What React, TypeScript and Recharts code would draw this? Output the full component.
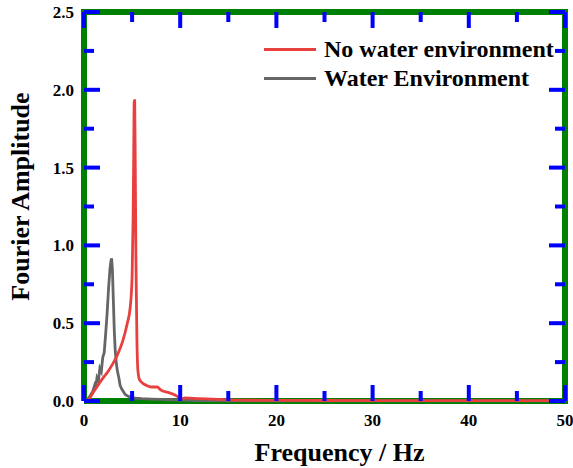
import React from 'react';
import { ComposedChart, Line, Scatter, XAxis, YAxis } from 'recharts';

const noWaterFreq = [0, 0.3, 1.0, 2.0, 2.5, 3.0, 3.5, 4.0, 4.5, 4.8, 5.0, 5.1, 5.17, 5.22, 5.27, 5.33, 5.4, 5.5, 5.6, 5.75, 6.0, 6.5, 7.0, 7.6, 8.0, 9.0, 9.7, 10.1, 10.5, 12, 14, 16, 20, 30, 40, 50];
const noWaterAmp = [0, 0.0, 0.06, 0.15, 0.19, 0.24, 0.3, 0.38, 0.5, 0.6, 0.8, 1.15, 1.6, 1.93, 1.93, 1.5, 0.9, 0.4, 0.2, 0.14, 0.12, 0.1, 0.09, 0.09, 0.07, 0.05, 0.03, 0.012, 0.02, 0.015, 0.01, 0.006, 0.004, 0.003, 0.003, 0.003];

const waterFreq = [0, 0.3, 0.6, 0.9, 1.1, 1.2, 1.35, 1.5, 1.65, 1.8, 1.95, 2.1, 2.25, 2.4, 2.55, 2.7, 2.8, 2.87, 2.95, 3.05, 3.15, 3.25, 3.35, 3.45, 3.55, 3.65, 3.75, 3.9, 4.1, 4.3, 4.6, 5.0, 6, 7, 8, 9, 10, 12, 20, 50];
const waterAmp = [0, 0.005, 0.03, 0.06, 0.1, 0.08, 0.15, 0.13, 0.21, 0.19, 0.28, 0.31, 0.43, 0.56, 0.72, 0.85, 0.9, 0.917, 0.85, 0.65, 0.45, 0.32, 0.25, 0.2, 0.17, 0.14, 0.1, 0.08, 0.06, 0.04, 0.03, 0.02, 0.015, 0.012, 0.01, 0.008, 0.005, 0.002, 0.001, 0.001];

const xTicks = [0, 5, 10, 15, 20, 25, 30, 35, 40, 45, 50];
const yTicks = [0, 0.25, 0.5, 0.75, 1.0, 1.25, 1.5, 1.75, 2.0, 2.25, 2.5];
const xDomain = [0, 50];
const yDomain = [0, 2.5];

const seriesNames = ['No water environment', 'Water Environment'];
const seriesColors = ['#e8403f', '#666666'];

const noWaterData = noWaterFreq.map((f, i) => ({ f, a: noWaterAmp[i] }));
const waterData = waterFreq.map((f, i) => ({ f, a: waterAmp[i] }));

const isMajorX = (v: number) => v % 10 === 0;
const isMajorY = (v: number) => Math.abs(v * 2 - Math.round(v * 2)) < 1e-6;

const frameData = [
  { f: xDomain[0], a: yDomain[0] },
  { f: xDomain[1], a: yDomain[0] },
  { f: xDomain[1], a: yDomain[1] },
  { f: xDomain[0], a: yDomain[1] },
  { f: xDomain[0], a: yDomain[0] },
];

const tickMarks = [
  ...xTicks.map((v) => ({ f: v, a: yDomain[0], side: 'b', major: isMajorX(v) })),
  ...xTicks.map((v) => ({ f: v, a: yDomain[1], side: 't', major: isMajorX(v) })),
  ...yTicks.map((v) => ({ f: xDomain[0], a: v, side: 'l', major: isMajorY(v) })),
  ...yTicks.map((v) => ({ f: xDomain[1], a: v, side: 'r', major: isMajorY(v) })),
];

const FONT = '"Liberation Serif", "Times New Roman", serif';
const TC = 'blue';

const renderTickMark = (props: any) => {
  const { cx, cy, payload } = props;
  if (cx == null || cy == null || !payload) return <g />;
  const len = payload.major ? 16 : 10;
  const w = 4;
  switch (payload.side) {
    case 'b':
      return <rect x={cx - w / 2} y={cy - len} width={w} height={len} fill={TC} />;
    case 't':
      return <rect x={cx - w / 2} y={cy} width={w} height={len} fill={TC} />;
    case 'l':
      return <rect x={cx} y={cy - w / 2} width={len} height={w} fill={TC} />;
    default:
      return <rect x={cx - len} y={cy - w / 2} width={len} height={w} fill={TC} />;
  }
};

const renderBottomTick = (props: any) => {
  const { x, y, payload } = props;
  if (!isMajorX(payload.value)) return <g />;
  return (
    <text x={x} y={y + 25} textAnchor="middle" fontFamily={FONT} fontWeight="bold" fontSize={17} fill="#000">
      {payload.value}
    </text>
  );
};

const renderLeftTick = (props: any) => {
  const { x, y, payload } = props;
  if (!isMajorY(payload.value)) return <g />;
  return (
    <text x={x - 10} y={y + 6} textAnchor="end" fontFamily={FONT} fontWeight="bold" fontSize={17} fill="#000">
      {payload.value.toFixed(1)}
    </text>
  );
};

const renderYLabel = (props: any) => {
  const vb = props.viewBox || {};
  const cx = (vb.x || 0) + 20;
  const cy = (vb.y || 0) + (vb.height || 0) / 2 - 10;
  return (
    <text x={cx} y={cy} transform={`rotate(-90 ${cx} ${cy})`} textAnchor="middle" dominantBaseline="central"
      fontFamily={FONT} fontWeight="bold" fontSize={26} fill="#000">
      Fourier Amplitude
    </text>
  );
};

const renderXLabel = (props: any) => {
  const vb = props.viewBox || {};
  const cx = (vb.x || 0) + (vb.width || 0) / 2 + 15;
  const cy = (vb.y || 0) + 60;
  return (
    <text x={cx} y={cy} textAnchor="middle" fontFamily={FONT} fontWeight="bold" fontSize={26} fill="#000">
      Frequency / Hz
    </text>
  );
};

export default function App() {
  return (
    <div style={{ position: 'absolute', left: 0, top: 0 }}>
      <ComposedChart width={573} height={468} margin={{ top: 12, right: 8, bottom: 0, left: 0 }}>
        <XAxis
          dataKey="f"
          type="number"
          domain={xDomain}
          ticks={xTicks}
          interval={0}
          height={67}
          tickSize={0}
          tickMargin={0}
          tickLine={false}
          axisLine={false}
          tick={renderBottomTick}
          label={{ content: renderXLabel }}
        />
        <YAxis
          type="number"
          domain={yDomain}
          ticks={yTicks}
          interval={0}
          width={84}
          tickSize={0}
          tickMargin={0}
          tickLine={false}
          axisLine={false}
          tick={renderLeftTick}
          label={{ content: renderYLabel }}
        />
        <Line
          data={frameData}
          dataKey="a"
          type="linear"
          stroke="green"
          strokeWidth={6}
          dot={false}
          activeDot={false}
          legendType="none"
          isAnimationActive={false}
        />
        <Scatter
          data={tickMarks}
          dataKey="a"
          shape={renderTickMark}
          legendType="none"
          isAnimationActive={false}
        />
        <Line
          data={waterData}
          dataKey="a"
          name={seriesNames[1]}
          type="linear"
          stroke={seriesColors[1]}
          strokeWidth={2.8}
          dot={false}
          activeDot={false}
          isAnimationActive={false}
        />
        <Line
          data={noWaterData}
          dataKey="a"
          name={seriesNames[0]}
          type="monotone"
          stroke={seriesColors[0]}
          strokeWidth={2.8}
          dot={false}
          activeDot={false}
          isAnimationActive={false}
        />
      </ComposedChart>
      <div style={{ position: 'absolute', left: 264, top: 35, fontFamily: FONT, fontWeight: 'bold', fontSize: 24, color: '#000', whiteSpace: 'nowrap' }}>
        {seriesNames.map((n, i) => (
          <div key={n} style={{ display: 'flex', alignItems: 'center', height: 29 }}>
            <div style={{ width: 52, height: 3, background: seriesColors[i], marginRight: 8 }} />
            <span>{n}</span>
          </div>
        ))}
      </div>
    </div>
  );
}
